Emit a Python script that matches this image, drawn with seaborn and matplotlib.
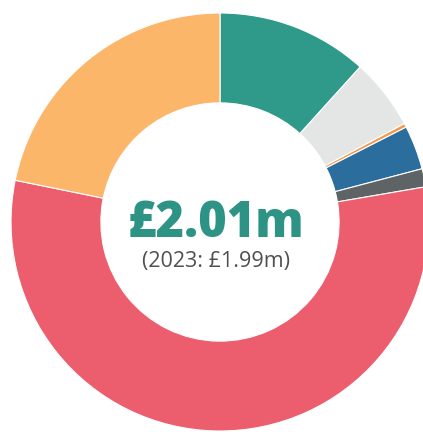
import seaborn as sns
import matplotlib.pyplot as plt

# Share of total (%), clockwise from 12 o'clock
segments = ["Teal", "Light grey", "Orange", "Blue", "Dark grey", "Red", "Yellow"]
shares = [11.7, 5.5, 0.3, 3.4, 1.4, 55.9, 21.8]
colors = ["#2F9A89", "#E3E6E5", "#F39A4E", "#2B6E9E", "#5E6365", "#EC5E6D", "#FBB66A"]

total_label = "£2.01m"
prior_label = "(2023: £1.99m)"

sns.set_theme(style="white")
plt.rcParams['font.family'] = ['Open Sans', 'DejaVu Sans']

fig = plt.figure(figsize=(4.23, 4.32), dpi=100)
ax = fig.add_axes([0, 0, 1, 1])

ax.pie(shares, colors=sns.color_palette(colors), startangle=90, counterclock=False,
       radius=1, wedgeprops=dict(width=0.43, edgecolor='white', linewidth=0.8))

# centre text
ax.text(-0.02, -0.01, total_label, ha='center', va='center', fontsize=35,
        fontweight='heavy', color='#2C9385')
ax.text(-0.02, -0.19, prior_label, ha='center', va='center', fontsize=15.5,
        color='#505050')

# place donut centre at (220, 222) px with radius 209 px
r = 209
ax.set_xlim(-220 / r, 203 / r)
ax.set_ylim(-210 / r, 222 / r)
ax.set_aspect('auto')
ax.axis('off')

fig.savefig("out.png", dpi=100, facecolor='white')
